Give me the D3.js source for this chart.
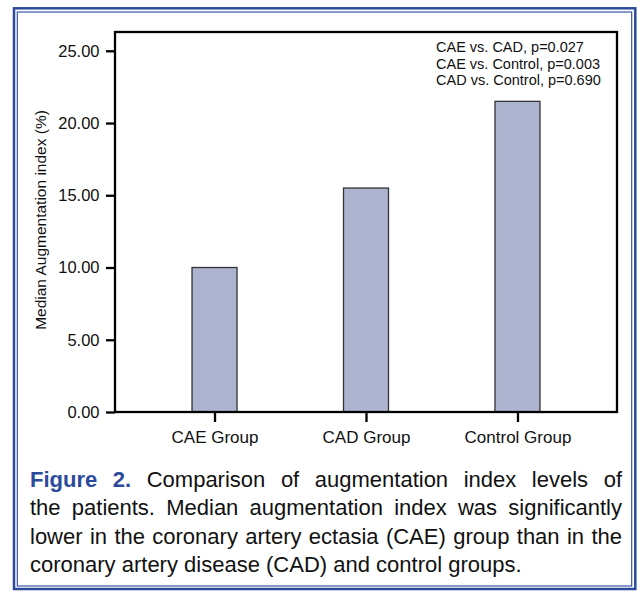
<!DOCTYPE html>
<html><head><meta charset="utf-8">
<script src="https://cdn.jsdelivr.net/npm/d3@7"></script>
<style>
body{margin:0;background:#fff;}
svg{display:block;font-family:"Liberation Sans",Arial,Helvetica,sans-serif;}
</style></head>
<body><svg id="c" width="640" height="592"></svg>
<script>
const categories = ["CAE Group", "CAD Group", "Control Group"];
const values = [10.0, 15.5, 21.5];
const yTicks = [0, 5, 10, 15, 20, 25];
const yLabel = "Median Augmentation index (%)";
const annotations = ["CAE vs. CAD, p=0.027", "CAE vs. Control, p=0.003", "CAD vs. Control, p=0.690"];
const captionLines = [
  "Comparison of augmentation index levels of",
  "the patients. Median augmentation index was significantly",
  "lower in the coronary artery ectasia (CAE) group than in the",
  "coronary artery disease (CAD) and control groups."
];

const svg = d3.select("#c");
const blue = "#2c4a9c";
// frame
svg.append("rect").attr("x",14).attr("y",8.3).attr("width",621.3).attr("height",580.7)
  .attr("fill","none").attr("stroke",blue).attr("stroke-width",2.5);
svg.append("rect").attr("x",17.3).attr("y",12).attr("width",614.4).attr("height",574)
  .attr("fill","none").attr("stroke",blue).attr("stroke-width",1.1);

const L = 115, R = 617, T = 32, B = 412;
const y = d3.scaleLinear().domain([0, 26.3]).range([B, T]);
const x = d3.scalePoint().domain(categories).range([L, R]).padding(0.657);
const barW = x.step() * 0.297;

// bars
svg.append("g").selectAll("rect").data(values).join("rect")
  .attr("x",(d,i)=>x(categories[i]) - barW/2)
  .attr("y",d=>y(d))
  .attr("width",barW)
  .attr("height",d=>B - y(d))
  .attr("fill","#adb4cf").attr("stroke","#333").attr("stroke-width",1.3);

// box
svg.append("rect").attr("x",L).attr("y",T).attr("width",R-L).attr("height",B-T)
  .attr("fill","none").attr("stroke","#000").attr("stroke-width",2.3);

const yAx = svg.append("g").attr("transform",`translate(${L},0)`)
  .call(d3.axisLeft(y).tickValues(yTicks).tickFormat(d3.format(".2f")).tickSize(9).tickPadding(6.5));
yAx.select(".domain").remove();
yAx.selectAll("line").attr("stroke","#000").attr("stroke-width",2.3);
yAx.selectAll("text").attr("font-size",16.5).attr("fill","#111").attr("font-family",null);

const xAx = svg.append("g").attr("transform",`translate(0,${B})`)
  .call(d3.axisBottom(x).tickSize(10).tickPadding(9));
xAx.select(".domain").remove();
xAx.selectAll("line").attr("stroke","#000").attr("stroke-width",2.3);
xAx.selectAll("text").attr("font-size",17).attr("fill","#111").attr("font-family",null);

svg.append("text").attr("transform",`translate(46,${(T+B)/2 - 2}) rotate(-90)`)
  .attr("text-anchor","middle").attr("font-size",15.5).attr("fill","#111").text(yLabel);

svg.append("g").selectAll("text").data(annotations).join("text")
  .attr("x",436).attr("y",(d,i)=>52 + i*16.5)
  .attr("font-size",14.5).attr("fill","#111").text(d=>d);

// caption, justified
const capX0 = 30, capX1 = 622, capSize = 22;
const baselines = [486.5, 515, 543.5, 572];
const cap = svg.append("g").attr("font-size",capSize).attr("fill","#111");
captionLines.forEach((line, li) => {
  let words = line.split(" ").map(w=>({t:w, bold:false}));
  if (li === 0) words = [{t:"Figure", bold:true},{t:"2.", bold:true}].concat(words);
  const nodes = words.map(w => {
    const t = cap.append("text").attr("y", baselines[li]).text(w.t);
    if (w.bold) t.attr("font-weight","bold").attr("fill",blue);
    return {t, w: t.node().getComputedTextLength()};
  });
  const total = d3.sum(nodes, n=>n.w);
  const spaceNorm = capSize * 0.278;
  const last = li === captionLines.length - 1;
  const gap = last ? spaceNorm : (capX1 - capX0 - total) / (nodes.length - 1);
  let cx = capX0;
  nodes.forEach(n => { n.t.attr("x", cx); cx += n.w + gap; });
});
</script></body></html>
